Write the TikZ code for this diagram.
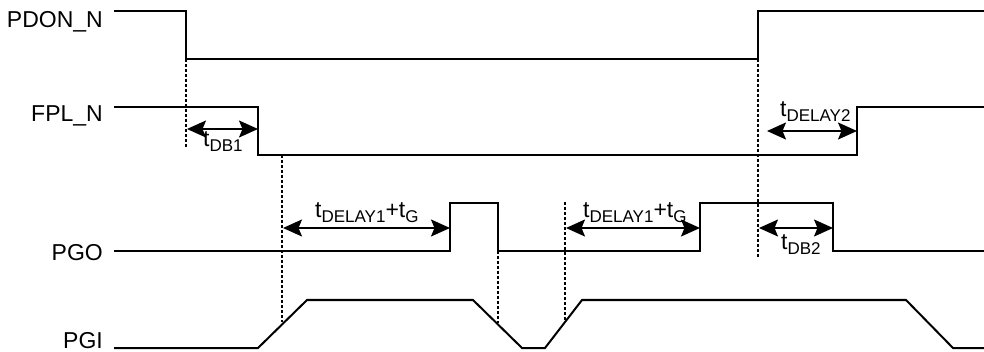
\documentclass[tikz,border=0pt]{standalone}
\usepackage{fontspec}
\setmainfont{Liberation Sans}
\usetikzlibrary{arrows.meta}
\newcommand{\tsub}[1]{\raisebox{-5pt}{\fontsize{17}{17}\selectfont #1}}
\tikzset{
  sig/.style={line width=2pt, line join=miter},
  guide/.style={line width=1.3pt, dash pattern=on 3pt off 2pt},
  span/.style={line width=1.8pt, {Stealth[length=19pt,width=17pt,inset=3.5pt]}-{Stealth[length=19pt,width=17pt,inset=3.5pt]}},
  lbl/.style={anchor=base east, inner sep=0pt, font=\fontsize{23}{27}\selectfont},
  tlbl/.style={anchor=base west, inner sep=0pt, font=\fontsize{23}{27}\selectfont}
}
\begin{document}
\begin{tikzpicture}[x=1pt,y=-1pt]
\useasboundingbox (0,0) rectangle (984,352);
% signal names
\node[lbl] (pdon) at (103,28) {PDON\_N};
\node[lbl] (fpl) at (103,122) {FPL\_N};
\node[lbl] (pgo) at (103,261) {PGO};
\node[lbl] (pgi) at (103,348.5) {PGI};
% waveforms
\draw[sig] (114,11) -- (186,11) -- (186,59) -- (758,59) -- (758,11) -- (984,11);
\draw[sig] (114,107) -- (258,107) -- (258,155) -- (857,155) -- (857,107) -- (984,107);
\draw[sig] (114,251) -- (450,251) -- (450,203) -- (498,203) -- (498,251) -- (700,251) -- (700,203) -- (833,203) -- (833,251) -- (984,251);
\draw[sig] (114,348) -- (258,348) -- (307,300) -- (473,300) -- (522,348) -- (545,348) -- (582,300) -- (906,300) -- (953,348) -- (984,348);
% guide lines
\coordinate (g1a) at (186,59);  \coordinate (g1b) at (186,148);
\coordinate (g2a) at (282,155); \coordinate (g2b) at (282,322);
\coordinate (g3a) at (498,251); \coordinate (g3b) at (498,323);
\coordinate (g4a) at (565,202); \coordinate (g4b) at (565,320);
\coordinate (g5a) at (758,59);  \coordinate (g5b) at (758,257);
\draw[guide] (g1a) -- (g1b);
\draw[guide] (g2a) -- (g2b);
\draw[guide] (g3a) -- (g3b);
\draw[guide] (g4a) -- (g4b);
\draw[guide] (g5a) -- (g5b);
% spans
\coordinate (a1) at (187,129); \coordinate (b1) at (258,129);
\coordinate (a2) at (283,228); \coordinate (b2) at (450,228);
\coordinate (a3) at (566,228); \coordinate (b3) at (700,228);
\coordinate (a4) at (759,228); \coordinate (b4) at (833,228);
\coordinate (a5) at (767,131); \coordinate (b5) at (857,131);
\draw[span] (a1) -- (b1);
\draw[span] (a2) -- (b2);
\draw[span] (a3) -- (b3);
\draw[span] (a4) -- (b4);
\draw[span] (a5) -- (b5);
% span labels
\node[tlbl] (tdb1) at (203,147) {t\tsub{DB1}};
\node[tlbl] (td1a) at (315,218) {t\tsub{DELAY1}+t\tsub{G}};
\node[tlbl] (td1b) at (583,218) {t\tsub{DELAY1}+t\tsub{G}};
\node[tlbl] (td2) at (780,117) {t\tsub{DELAY2}};
\node[tlbl] (tdb2) at (781,250) {t\tsub{DB2}};
\end{tikzpicture}
\end{document}
